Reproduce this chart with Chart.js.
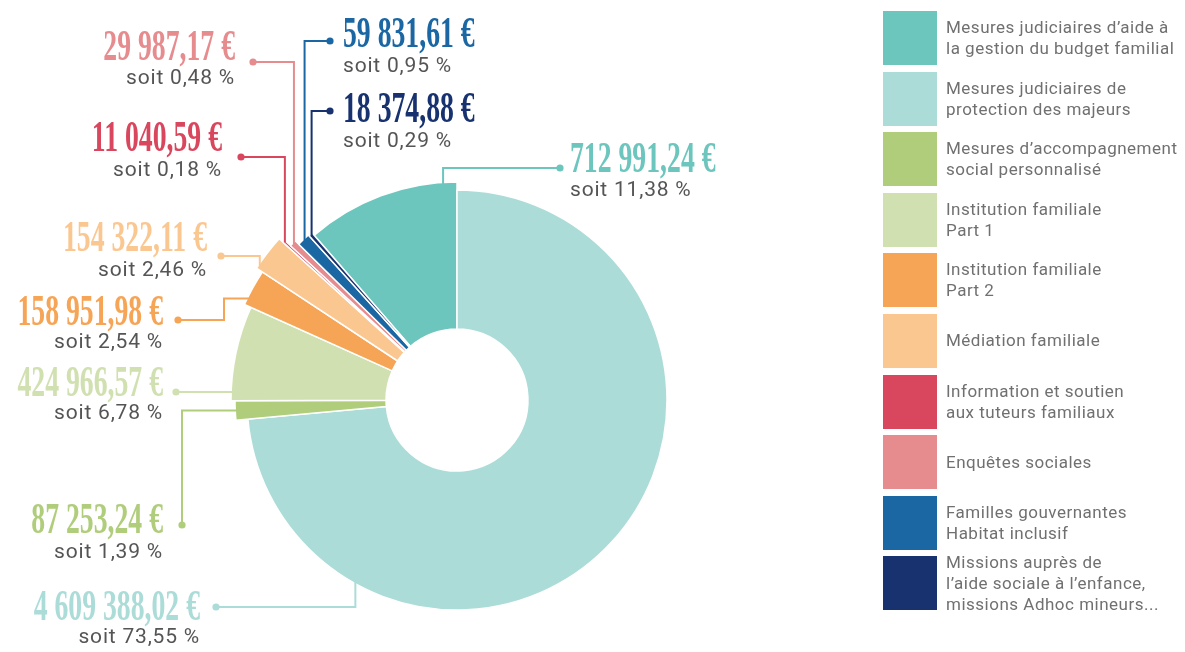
<!DOCTYPE html>
<html lang="fr">
<head>
<meta charset="utf-8">
<title>Répartition du budget</title>
<script src="https://cdn.jsdelivr.net/npm/chart.js@4/dist/chart.umd.min.js"></script>
<style>
    html, body { margin: 0; padding: 0; background: #fff; }
    #wrap { position: relative; width: 1185px; height: 652px; }
    #legende {
        position: absolute; left: 883px; top: 11px;
        font-family: Roboto, "Noto Sans", sans-serif; font-size: 17px;
        color: #707070; letter-spacing: 0.5px;
    }
    .item { display: flex; align-items: center; height: 54px; margin-bottom: 6.6px; }
    .item .box { width: 54px; height: 54px; flex: none; }
    .item .txt { margin-left: 9px; line-height: 21px; white-space: nowrap; }
</style>
</head>
<body>
<div id="wrap">
    <canvas id="graficaBudget"></canvas>
    <div id="legende"></div>
</div>
<script>
// categories (legend order), amounts in euros, percentages as printed
const categories = [
    ["Mesures judiciaires d’aide à", "la gestion du budget familial"],
    ["Mesures judiciaires de", "protection des majeurs"],
    ["Mesures d’accompagnement", "social personnalisé"],
    ["Institution familiale", "Part 1"],
    ["Institution familiale", "Part 2"],
    ["Médiation familiale"],
    ["Information et soutien", "aux tuteurs familiaux"],
    ["Enquêtes sociales"],
    ["Familles gouvernantes", "Habitat inclusif"],
    ["Missions auprès de", "l’aide sociale à l’enfance,", "missions Adhoc mineurs..."],
];
const montants = [712991.24, 4609388.02, 87253.24, 424966.57, 158951.98, 154322.11, 11040.59, 29987.17, 59831.61, 18374.88];
const pourcentages = [11.38, 73.55, 1.39, 6.78, 2.54, 2.46, 0.18, 0.48, 0.95, 0.29];

// styles
const couleurs = ["#6cc6bd", "#acdcd8", "#b0cd7c", "#d1e0b0", "#f6a455", "#fbc791", "#d9475f", "#e68c8f", "#1b67a3", "#17326f"];
const rayonSup = [8, 0, 12, 16, 23, 30, 25, 17, 12, 11]; // extra outer radius per slice (px)

// callouts: dot position, route of the leader line, where it meets the slice, text anchor
const renvois = [
    { point: [560, 168], trajet: "hv", frac: 0.91, texte: [570, 159, 191], align: "left" },
    { point: [216, 607], trajet: "hv", frac: 0.79, texte: [200, 607, 638], align: "right" },
    { point: [182, 525], trajet: "vh", frac: 0.5, texte: [163, 520, 553], align: "right" },
    { point: [176, 392], trajet: "hv", frac: 0.08, texte: [163, 383, 414], align: "right" },
    { point: [178, 320], trajet: "hvh", frac: 0.2, coude: 224, texte: [163, 312, 343], align: "right" },
    { point: [221, 256], trajet: "hv", frac: 0.1, texte: [207, 238, 271], align: "right" },
    { point: [241, 157], trajet: "hv", frac: 0.5, texte: [222, 138, 171], align: "right" },
    { point: [253, 62], trajet: "hv", frac: 0.5, texte: [235, 47, 79], align: "right" },
    { point: [330, 41], trajet: "hv", frac: 0.5, texte: [343, 34, 67], align: "left" },
    { point: [330, 111], trajet: "hv", frac: 0.5, texte: [343, 109, 142], align: "left" },
];

function formatEuros(v) {
    let [ent, dec] = v.toFixed(2).split(".");
    ent = ent.replace(/\B(?=(\d{3})+(?!\d))/g, " ");
    return ent + "," + dec + " €";
}

const total = montants.reduce((a, b) => a + b, 0);

const pluginRenvois = {
    id: "renvois",
    afterDatasetsUpdate(chart) {
        chart.getDatasetMeta(0).data.forEach((arc, i) => {
            arc.outerRadius += rayonSup[i];
        });
    },
    afterDatasetsDraw(chart) {
        const ctx = chart.ctx;
        const arcs = chart.getDatasetMeta(0).data;
        arcs.forEach((arc, i) => {
            const r = renvois[i];
            const ang = arc.startAngle + r.frac * (arc.endAngle - arc.startAngle);
            const rad = arc.outerRadius - 1.5;
            const ax = arc.x + Math.cos(ang) * rad;
            const ay = arc.y + Math.sin(ang) * rad;
            const [px, py] = r.point;
            let pts;
            if (r.trajet === "hv") pts = [[px, py], [ax, py], [ax, ay]];
            else if (r.trajet === "vh") pts = [[px, py], [px, ay], [ax, ay]];
            else pts = [[px, py], [r.coude, py], [r.coude, ay], [ax, ay]];

            ctx.save();
            ctx.strokeStyle = couleurs[i];
            ctx.fillStyle = couleurs[i];
            ctx.lineWidth = 2;
            ctx.beginPath();
            ctx.moveTo(pts[0][0], pts[0][1]);
            for (let k = 1; k < pts.length; k++) ctx.lineTo(pts[k][0], pts[k][1]);
            ctx.stroke();
            ctx.beginPath();
            ctx.arc(px, py, 3.6, 0, Math.PI * 2);
            ctx.fill();

            // amount
            const [tx, ty1, ty2] = r.texte;
            ctx.translate(tx, ty1);
            ctx.scale(0.63, 1);
            ctx.font = "bold 44px 'Liberation Serif', 'DejaVu Serif', serif";
            ctx.textAlign = r.align;
            ctx.textBaseline = "middle";
            ctx.fillText(formatEuros(montants[i]), 0, 2);
            ctx.restore();

            // percentage
            ctx.save();
            ctx.font = "21px Roboto, 'Noto Sans', sans-serif";
            if ("letterSpacing" in ctx) ctx.letterSpacing = "0.8px";
            ctx.fillStyle = "#555555";
            ctx.textAlign = r.align;
            ctx.textBaseline = "middle";
            ctx.fillText("soit " + pourcentages[i].toFixed(2).replace(".", ",") + " %", tx, ty2);
            ctx.restore();
        });
    },
};

window.onload = function () {
    let canvas = document.getElementById("graficaBudget");
    let ctx = canvas.getContext("2d");

    new Chart(ctx, {
        type: "doughnut",
        data: {
            labels: categories.map((c) => c.join(" ")),
            datasets: [
                {
                    label: "Budget",
                    data: montants,
                    backgroundColor: couleurs,
                    borderColor: "#ffffff",
                    borderWidth: 1.5,
                },
            ],
        },
        options: {
            responsive: true,
            maintainAspectRatio: false,
            animation: false,
            events: [],
            rotation: -(montants[0] / total) * 360,
            radius: 210,
            cutout: "33.8%",
            layout: {
                padding: { left: 0, right: 271, top: 148, bottom: 0 },
            },
            plugins: {
                legend: { display: false },
                tooltip: { enabled: false },
            },
        },
        plugins: [pluginRenvois],
    });

    // legend on the right
    const legende = document.getElementById("legende");
    categories.forEach((lignes, i) => {
        legende.innerHTML += `
            <div class="item">
                <span class="box" style="background:${couleurs[i]}"></span>
                <div class="txt">${lignes.join("<br>")}</div>
            </div>`;
    });
};
</script>
</body>
</html>
